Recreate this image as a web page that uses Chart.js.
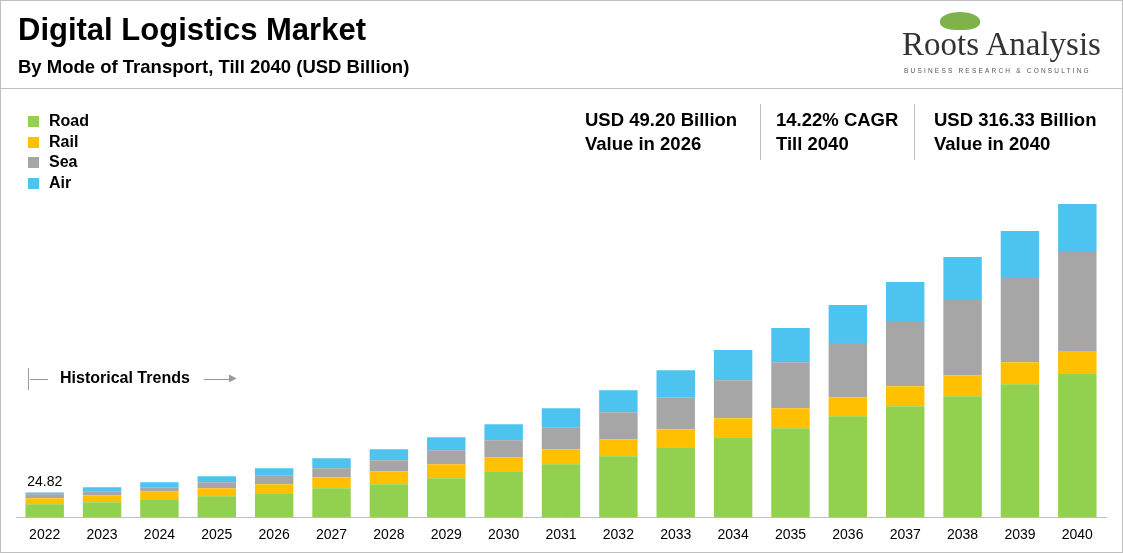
<!DOCTYPE html>
<html><head><meta charset="utf-8">
<script src="https://cdn.jsdelivr.net/npm/chart.js@4.4.0/dist/chart.umd.min.js"></script>
<style>
body{margin:0;width:1123px;height:553px;overflow:hidden;background:#fff;font-family:Arial,"Liberation Sans",sans-serif}
#frame{position:absolute;left:0;top:0;width:1121px;height:551px;border:1px solid #bfbfbf}
#c{position:absolute;left:0;top:0}
.t{position:absolute;color:#000}
.leg{position:absolute;left:28px;font-size:16px;font-weight:bold}
.leg span{display:inline-block;width:11px;height:11px;margin-right:10px;vertical-align:-1px}
.kpi{position:absolute;top:108px;font-size:18.5px;font-weight:bold;line-height:24px}
.sep{position:absolute;top:104px;width:1px;height:56px;background:#bfbfbf}
</style></head><body>
<div id="frame"></div>
<canvas id="c" width="1123" height="553"></canvas>
<div class="t" style="left:18px;top:12px;font-size:31px;font-weight:bold">Digital Logistics Market</div>
<div class="t" style="left:18px;top:56px;font-size:18.5px;font-weight:bold">By Mode of Transport, Till 2040 (USD Billion)</div>
<div class="t" style="left:902px;top:26px;font-family:'Liberation Serif',serif;font-size:33px;color:#333">Roots Analysis</div>
<div class="t" style="left:904px;top:67px;font-size:6.5px;letter-spacing:2.2px;color:#555">BUSINESS RESEARCH &amp; CONSULTING</div>
<div class="t" style="left:940px;top:12px;width:40px;height:18px;border-radius:50% 50% 40% 40%;background:#7fb24a"></div>
<div style="position:absolute;left:0;top:88px;width:1123px;height:1px;background:#bfbfbf"></div>
<div class="leg" style="top:112px"><span style="background:#92d050"></span>Road</div>
<div class="leg" style="top:133px"><span style="background:#ffc000"></span>Rail</div>
<div class="leg" style="top:153px"><span style="background:#a6a6a6"></span>Sea</div>
<div class="leg" style="top:174px"><span style="background:#4dc3f0"></span>Air</div>
<div class="kpi" style="left:585px">USD 49.20 Billion<br>Value in 2026</div>
<div class="sep" style="left:760px"></div>
<div class="kpi" style="left:776px">14.22% CAGR<br>Till 2040</div>
<div class="sep" style="left:914px"></div>
<div class="kpi" style="left:934px">USD 316.33 Billion<br>Value in 2040</div>
<div style="position:absolute;left:28px;top:368px;width:1px;height:22px;background:#999"></div>
<div style="position:absolute;left:30px;top:379px;width:18px;height:1px;background:#999"></div>
<div class="t" style="left:60px;top:369px;font-size:16px;font-weight:bold">Historical Trends</div>
<div style="position:absolute;left:204px;top:379px;width:30px;height:1px;background:#999"></div>
<div class="t" style="left:229px;top:372px;font-size:10px;color:#999">&#9654;</div>
<script>
const years = ['2022','2023','2024','2025','2026','2027','2028','2029','2030','2031','2032','2033','2034','2035','2036','2037','2038','2039','2040'];
const road = [13,15,18,21,24,29,33,39,46,53,61,70,80,89,101,111,121,133,144];
const rail = [6,7,8,8,9,11,13,14,14,15,17,18,19,20,19,20,21,22,22];
const sea  = [4,4,4,6,9,9,11,14,17,22,27,32,38,46,54,64,75,85,100];
const air  = [1.8,4,5,6,7,10,11,13,16,19,22,27,30,34,38,40,43,46,47];
const firstLabel = '24.82';

const labelPlugin = {
  id: 'firstLabel',
  afterDatasetsDraw(chart) {
    const m = chart.getDatasetMeta(3).data[0];
    const ctx = chart.ctx;
    ctx.save();
    ctx.font = '14px Arial';
    ctx.fillStyle = '#000';
    ctx.textAlign = 'center';
    ctx.fillText(firstLabel, m.x, m.y - 6);
    ctx.restore();
  }
};

const ds = (label, data, color) => ({label, data, backgroundColor: color, barPercentage: 0.67, categoryPercentage: 1});
new Chart(document.getElementById('c'), {
  type: 'bar',
  data: { labels: years, datasets: [
    ds('Road', road, '#92d050'), ds('Rail', rail, '#ffc000'),
    ds('Sea', sea, '#a6a6a6'), ds('Air', air, '#4dc3f0')] },
  options: {
    responsive: false, animation: false,
    layout: { padding: { left: 16, right: 17, top: 90, bottom: 7 } },
    plugins: { legend: { display: false }, tooltip: { enabled: false } },
    scales: {
      x: { stacked: true, grid: { display: false }, border: { color: '#bfbfbf' },
           ticks: { color: '#000', font: { size: 14, family: 'Arial' }, padding: 2 } },
      y: { stacked: true, display: false, min: 0, max: 427 }
    }
  },
  plugins: [labelPlugin]
});
</script>
</body></html>
